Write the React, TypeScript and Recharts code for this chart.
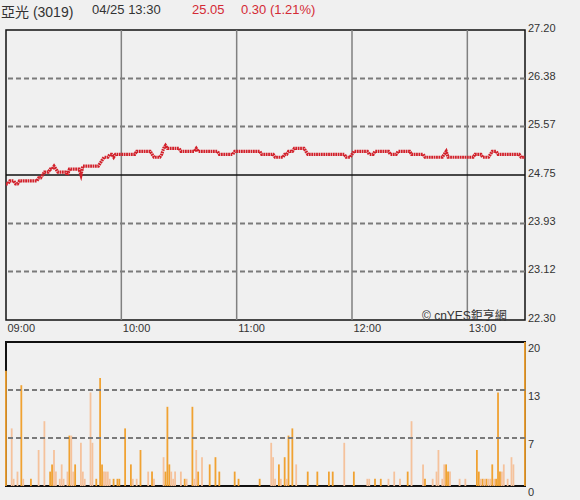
import React from 'react';
import {
  LineChart,
  Line,
  BarChart,
  Bar,
  Cell,
  XAxis,
  YAxis,
  ReferenceLine,
  ReferenceArea,
} from 'recharts';

// minutes after 09:00 for the hour grid, and their labels
const hourTicks = [0, 60, 120, 180, 240];
const hourLabels = ['09:00', '10:00', '11:00', '12:00', '13:00'];

const priceTicks = [22.3, 23.12, 23.93, 24.75, 25.57, 26.38, 27.2];
const prevClose = 24.75;
const volTicks = [0, 6.67, 13.33, 20];

// one price per minute, 09:00 .. 13:30
const prices = [
  24.6, 24.6, 24.65, 24.65, 24.65, 24.6, 24.6, 24.65, 24.65, 24.65,
  24.65, 24.65, 24.65, 24.65, 24.65, 24.65, 24.65, 24.7, 24.7, 24.75,
  24.8, 24.8, 24.8, 24.85, 24.85, 24.9, 24.85, 24.8, 24.8, 24.8,
  24.8, 24.8, 24.75, 24.85, 24.85, 24.85, 24.85, 24.85, 24.85, 24.75,
  24.9, 24.9, 24.9, 24.9, 24.9, 24.9, 24.9, 24.9, 24.9, 24.95,
  25.0, 25.05, 25.05, 25.05, 25.1, 25.1, 25.05, 25.1, 25.1, 25.1,
  25.1, 25.1, 25.1, 25.1, 25.1, 25.1, 25.1, 25.1, 25.15, 25.15,
  25.15, 25.15, 25.15, 25.15, 25.15, 25.15, 25.1, 25.05, 25.05, 25.05,
  25.05, 25.1, 25.2, 25.25, 25.2, 25.2, 25.2, 25.2, 25.2, 25.2,
  25.2, 25.15, 25.15, 25.15, 25.15, 25.15, 25.15, 25.15, 25.15, 25.2,
  25.15, 25.15, 25.15, 25.15, 25.15, 25.15, 25.15, 25.15, 25.15, 25.15,
  25.15, 25.1, 25.1, 25.1, 25.1, 25.1, 25.1, 25.1, 25.1, 25.15,
  25.15, 25.15, 25.15, 25.15, 25.15, 25.15, 25.15, 25.15, 25.15, 25.15,
  25.15, 25.15, 25.15, 25.1, 25.1, 25.1, 25.1, 25.1, 25.1, 25.1,
  25.05, 25.05, 25.05, 25.05, 25.05, 25.1, 25.1, 25.15, 25.15, 25.15,
  25.2, 25.2, 25.2, 25.2, 25.2, 25.2, 25.15, 25.1, 25.1, 25.1,
  25.1, 25.1, 25.1, 25.1, 25.1, 25.1, 25.1, 25.1, 25.1, 25.1,
  25.1, 25.1, 25.1, 25.1, 25.1, 25.1, 25.1, 25.05, 25.05, 25.05,
  25.1, 25.15, 25.15, 25.15, 25.15, 25.15, 25.15, 25.15, 25.15, 25.1,
  25.1, 25.1, 25.15, 25.15, 25.15, 25.15, 25.15, 25.15, 25.15, 25.15,
  25.1, 25.1, 25.1, 25.1, 25.15, 25.15, 25.15, 25.15, 25.15, 25.15,
  25.15, 25.1, 25.1, 25.1, 25.1, 25.1, 25.1, 25.1, 25.05, 25.05,
  25.05, 25.05, 25.05, 25.05, 25.05, 25.05, 25.05, 25.05, 25.1, 25.15,
  25.05, 25.05, 25.05, 25.05, 25.05, 25.05, 25.05, 25.05, 25.05, 25.05,
  25.05, 25.05, 25.05, 25.05, 25.1, 25.1, 25.1, 25.1, 25.05, 25.05,
  25.05, 25.05, 25.1, 25.15, 25.15, 25.15, 25.1, 25.1, 25.1, 25.1,
  25.1, 25.1, 25.1, 25.1, 25.1, 25.1, 25.1, 25.1, 25.05, 25.05,
  25.05,
];

// [minute, volume] – darker orange bars
const darkVolumes = [
  [0, 16], [8, 14], [13, 1], [23, 2], [24, 3], [33, 7], [36, 3], [47, 1],
  [49, 15], [50, 3], [56, 1], [58, 1], [59, 1], [62, 8], [65, 3], [70, 5],
  [76, 2], [83, 2], [84, 11], [85, 3], [93, 1], [97, 11], [100, 2], [106, 3],
  [109, 4], [111, 2], [119, 2], [121, 1], [132, 1], [142, 3], [145, 4], [147, 7],
  [149, 8], [157, 2], [162, 2], [168, 2], [170, 2], [181, 2], [192, 1], [195, 1],
  [209, 2], [218, 1], [229, 3], [230, 2], [245, 5], [246, 2], [248, 1], [250, 1],
  [253, 3], [255, 1], [256, 13], [257, 2], [270, 20],
];

// [minute, volume] – light peach bars
const lightVolumes = [
  [3, 8], [4, 1], [6, 2], [9, 1], [17, 5], [20, 9], [25, 5], [26, 2],
  [28, 1], [29, 3], [30, 1], [32, 2], [34, 7], [35, 2], [39, 6], [40, 2],
  [41, 1], [44, 13], [45, 6], [51, 2], [52, 2], [53, 2], [54, 1], [66, 1],
  [68, 1], [74, 2], [77, 1], [82, 4], [86, 2], [87, 1], [88, 2], [91, 2],
  [94, 1], [98, 1], [99, 5], [102, 4], [138, 6], [139, 4], [140, 1], [143, 1],
  [146, 1], [151, 3], [176, 6], [188, 1], [189, 1], [199, 1], [202, 2], [205, 1],
  [211, 9], [217, 3], [222, 1], [224, 2], [225, 5], [227, 1], [228, 3], [231, 2],
  [236, 1], [239, 1], [247, 1], [249, 1], [251, 1], [252, 1], [254, 1], [258, 2],
  [259, 3], [261, 1], [263, 4], [264, 3],
];

const RED = '#d42a35';
const LINE_RED = '#d2202a';
const DARK_BAR = '#f0a232';
const LIGHT_BAR = '#f5c29c';
const FONT = 'Arial, "Liberation Sans", "Noto Sans CJK TC", sans-serif';

const priceData = prices.map((price, m) => ({ m, price }));
const volData = [
  ...darkVolumes.map(([m, vol]) => ({ m, vol, dark: true })),
  ...lightVolumes.map(([m, vol]) => ({ m, vol, dark: false })),
].sort((a, b) => a.m - b.m);

const TimeTick = (props: any) => {
  const { x, y, payload } = props;
  const i = hourTicks.indexOf(payload.value);
  return (
    <text x={x + 1.5} y={y + 12} fontSize={11} fill="#333" fontFamily={FONT} textAnchor="start">
      {hourLabels[i]}
    </text>
  );
};

const PriceTick = (props: any) => {
  const { x, y, payload } = props;
  return (
    <text x={x + 3} y={y + 1.5} fontSize={11} fill="#333" fontFamily={FONT} textAnchor="start">
      {Number(payload.value).toFixed(2)}
    </text>
  );
};

const VolTick = (props: any) => {
  const { x, y, payload } = props;
  return (
    <text x={x + 3} y={y + 10} fontSize={11} fill="#333" fontFamily={FONT} textAnchor="start">
      {Math.round(payload.value)}
    </text>
  );
};

export default function App() {
  return (
    <div
      style={{
        position: 'absolute',
        left: 0,
        top: 0,
        width: 580,
        height: 500,
        background: '#f0f0f0',
        fontFamily: FONT,
        overflow: 'hidden',
      }}
    >
      {/* header */}
      <div style={{ position: 'absolute', left: 1, top: 1, fontSize: 14, color: '#333', whiteSpace: 'nowrap' }}>
        亞光 (3019)
      </div>
      <div style={{ position: 'absolute', left: 92, top: 2, fontSize: 13, color: '#333' }}>04/25 13:30</div>
      <div style={{ position: 'absolute', left: 192, top: 2, fontSize: 13, color: RED }}>25.05</div>
      <div style={{ position: 'absolute', left: 241, top: 2, fontSize: 13, color: RED }}>0.30 (1.21%)</div>

      {/* price panel */}
      <div style={{ position: 'absolute', left: 0, top: 0 }}>
        <LineChart width={580} height={340} data={priceData} margin={{ top: 30, right: 0, left: 6, bottom: 0 }}>
          <XAxis
            dataKey="m"
            type="number"
            domain={[0, 270]}
            ticks={hourTicks}
            axisLine={false}
            tickLine={false}
            tickSize={0}
            tickMargin={0}
            height={20}
            tick={<TimeTick />}
            interval={0}
          />
          <YAxis
            orientation="right"
            type="number"
            domain={[22.3, 27.2]}
            ticks={priceTicks}
            axisLine={false}
            tickLine={false}
            tickSize={0}
            tickMargin={0}
            width={55}
            tick={<PriceTick />}
            interval={0}
          />
          {priceTicks
            .filter((t) => t !== prevClose && t !== 22.3 && t !== 27.2)
            .map((t) => (
              <ReferenceLine key={t} y={t} stroke="#7a7a7a" strokeWidth={2} strokeDasharray="5 3" />
            ))}
          {hourTicks.slice(1).map((t) => (
            <ReferenceLine key={t} x={t} stroke="#808080" strokeWidth={1.5} />
          ))}
          <ReferenceLine y={prevClose} stroke="#111" strokeWidth={1.5} />
          <Line
            type="linear"
            dataKey="price"
            stroke={LINE_RED}
            strokeWidth={3.2}
            strokeDasharray="1.8 0.6"
            dot={false}
            isAnimationActive={false}
          />
          <ReferenceArea x1={0} x2={270} y1={22.3} y2={27.2} fill="none" stroke="#111" strokeWidth={1.5} />
        </LineChart>
      </div>

      <div
        style={{
          position: 'absolute',
          left: 422,
          top: 306,
          fontSize: 12,
          color: '#333',
          whiteSpace: 'nowrap',
        }}
      >
        © cnYES鉅亨網
      </div>

      {/* volume panel */}
      <div style={{ position: 'absolute', left: 0, top: 340 }}>
        <BarChart width={580} height={160} data={volData} margin={{ top: 2, right: 0, left: 6, bottom: 14 }}>
          <XAxis dataKey="m" type="number" domain={[0, 270]} hide />
          <YAxis
            orientation="right"
            type="number"
            domain={[0, 20]}
            ticks={volTicks}
            axisLine={false}
            tickLine={false}
            tickSize={0}
            tickMargin={0}
            width={55}
            tick={<VolTick />}
            interval={0}
          />
          <ReferenceArea x1={0} x2={270} y1={0} y2={20} fill="none" stroke="#111" strokeWidth={2} />
          {volTicks.slice(1, 3).map((t) => (
            <ReferenceLine key={t} y={t} stroke="#7a7a7a" strokeWidth={2} strokeDasharray="5 3" />
          ))}
          <Bar dataKey="vol" barSize={1.8} isAnimationActive={false}>
            {volData.map((d, i) => (
              <Cell key={i} fill={d.dark ? DARK_BAR : LIGHT_BAR} />
            ))}
          </Bar>
        </BarChart>
      </div>
    </div>
  );
}
